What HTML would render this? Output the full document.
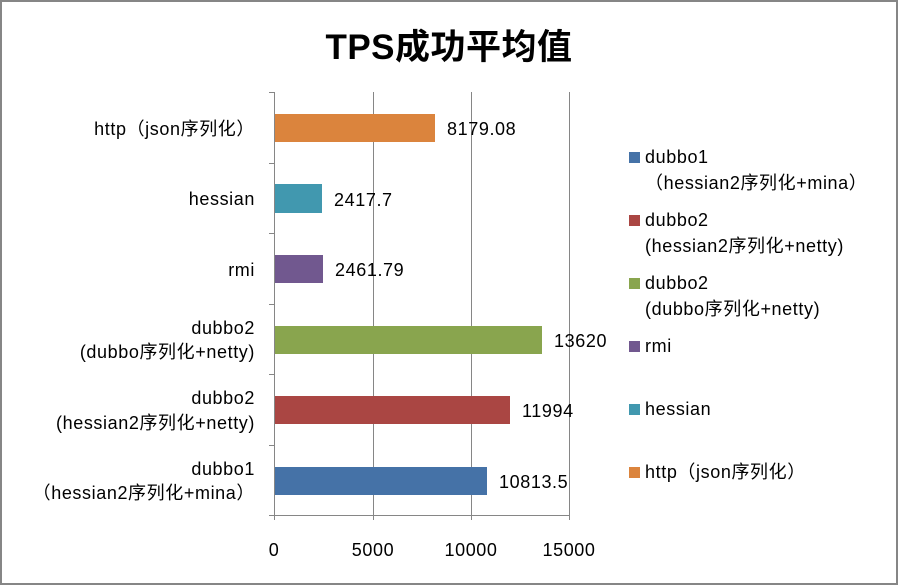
<!DOCTYPE html>
<html><head><meta charset="utf-8"><style>
html,body{margin:0;padding:0;background:#fff}
svg{display:block}
text{font-family:"Liberation Sans","Noto Sans CJK SC",sans-serif;font-size:18px;letter-spacing:0.6px;fill:#000}
</style></head><body>
<svg width="899" height="586" viewBox="0 0 899 586" xmlns="http://www.w3.org/2000/svg">
<rect x="1" y="1" width="896" height="583" fill="#fff" stroke="#868686" stroke-width="2"/>
<text x="449" y="59" text-anchor="middle" style="font-size:35px;font-weight:bold;letter-spacing:0.5px">TPS成功平均值</text>
<g stroke="#868686" stroke-width="1">
<line x1="373.5" y1="92" x2="373.5" y2="520"/>
<line x1="471.5" y1="92" x2="471.5" y2="520"/>
<line x1="569.5" y1="92" x2="569.5" y2="520"/>
<line x1="274.5" y1="92" x2="274.5" y2="520"/>
<line x1="269" y1="515.5" x2="570" y2="515.5"/>
<line x1="269" y1="92.5" x2="274" y2="92.5"/>
<line x1="269" y1="163.5" x2="274" y2="163.5"/>
<line x1="269" y1="233.5" x2="274" y2="233.5"/>
<line x1="269" y1="304.5" x2="274" y2="304.5"/>
<line x1="269" y1="374.5" x2="274" y2="374.5"/>
<line x1="269" y1="445.5" x2="274" y2="445.5"/>
</g>
<rect x="275" y="114" width="160" height="28" fill="#DB843D"/>
<rect x="275" y="184" width="47" height="29" fill="#4198AF"/>
<rect x="275" y="255" width="48" height="28" fill="#71588F"/>
<rect x="275" y="326" width="267" height="28" fill="#89A54E"/>
<rect x="275" y="396" width="235" height="28" fill="#AA4643"/>
<rect x="275" y="467" width="212" height="28" fill="#4572A7"/>
<text x="447" y="135">8179.08</text>
<text x="334" y="206">2417.7</text>
<text x="335" y="276">2461.79</text>
<text x="554" y="347">13620</text>
<text x="522" y="417">11994</text>
<text x="499" y="488">10813.5</text>
<g text-anchor="middle">
<text x="274" y="556">0</text>
<text x="373" y="556">5000</text>
<text x="471" y="556">10000</text>
<text x="569" y="556">15000</text>
</g>
<g text-anchor="end">
<text x="255" y="135">http（json序列化）</text>
<text x="255" y="205">hessian</text>
<text x="255" y="276">rmi</text>
<text x="255" y="334">dubbo2</text>
<text x="255" y="358">(dubbo序列化+netty)</text>
<text x="255" y="404">dubbo2</text>
<text x="255" y="429">(hessian2序列化+netty)</text>
<text x="255" y="475">dubbo1</text>
<text x="255" y="499">（hessian2序列化+mina）</text>
</g>
<rect x="629" y="152" width="11" height="11" fill="#4572A7"/>
<rect x="629" y="215" width="11" height="11" fill="#AA4643"/>
<rect x="629" y="278" width="11" height="11" fill="#89A54E"/>
<rect x="629" y="341" width="11" height="11" fill="#71588F"/>
<rect x="629" y="404" width="11" height="11" fill="#4198AF"/>
<rect x="629" y="467" width="11" height="11" fill="#DB843D"/>
<text x="645" y="163">dubbo1</text>
<text x="645" y="189">（hessian2序列化+mina）</text>
<text x="645" y="226">dubbo2</text>
<text x="645" y="252">(hessian2序列化+netty)</text>
<text x="645" y="289">dubbo2</text>
<text x="645" y="315">(dubbo序列化+netty)</text>
<text x="645" y="352">rmi</text>
<text x="645" y="415">hessian</text>
<text x="645" y="478">http（json序列化）</text>
</svg>
</body></html>
